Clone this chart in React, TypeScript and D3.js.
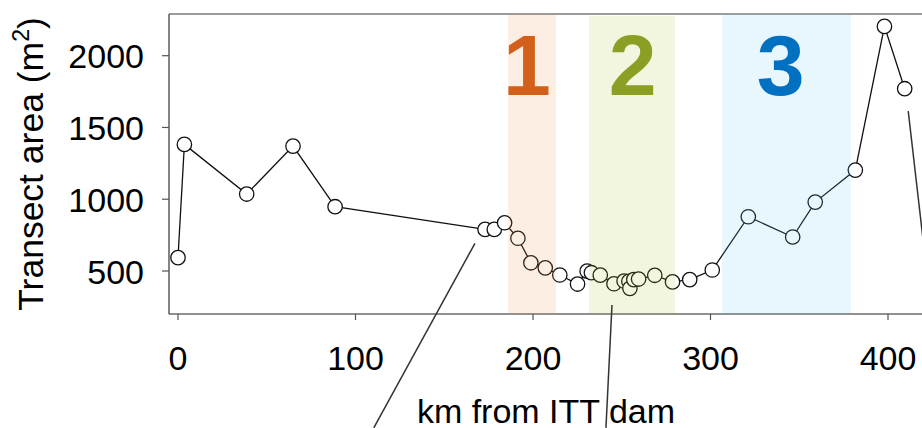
import React from "react";
import * as d3 from "d3";

const kmValues = [0, 3.6, 38.7, 64.8, 88.5, 173, 178.2, 184, 191.5, 198.8, 206.9, 215.1, 225.1, 230.5, 232.9, 237.9, 245.6, 251.3, 254, 254.6, 256.8, 259.5, 268.6, 278.6, 288.3, 301, 321.3, 346.3, 359, 381.6, 398, 409.4];
const areaValues = [593, 1382, 1036, 1370, 948, 790, 790, 836, 728, 557, 522, 472, 409, 499, 488, 471, 411, 430, 428, 379, 440, 444, 470, 424, 440, 507, 878, 737, 980, 1203, 2204, 1770];

const xTicks = [0, 100, 200, 300, 400];
const yTicks = [500, 1000, 1500, 2000];

const bandLabels = ["1", "2", "3"];
const bandStart = [186, 231.5, 306.5];
const bandEnd = [213, 280, 379];
const bandLabelKm = [196.6, 256.2, 339.5];
const bandFill = ["#f2904b", "#afc32a", "#66caf8"];
const bandText = ["#d2601a", "#8b9f24", "#0070c0"];

// callout lines, in data units [km1, area1, km2, area2]
const callouts = [
  [167.3, 693, 110.3, -593],
  [244.5, 263, 241.1, -593],
  [411.4, 1614, 421.4, 542],
];

const FONT = "'Liberation Sans', Arial, sans-serif";

export default function App() {
  const x = d3.scaleLinear().domain([0, 400]).range([178, 888]);
  const y = d3.scaleLinear().domain([500, 2000]).range([271, 55.7]);
  const left = 169;
  const top = 14;
  const bottom = 314;
  const right = 940;

  const pts = kmValues.map((k, i) => [k, areaValues[i]] as [number, number]);
  const line = d3
    .line<[number, number]>()
    .x((d) => x(d[0]))
    .y((d) => y(d[1]));

  return (
    <svg
      width={922}
      height={428}
      style={{ position: "absolute", left: 0, top: 0, display: "block", background: "#fff" }}
      fontFamily={FONT}
    >
      <rect x={0} y={0} width={922} height={428} fill="#fff" />
      {/* top border */}
      <line x1={left} x2={right} y1={top} y2={top} stroke="#7a7a7a" strokeWidth={1.5} />
      {/* left axis */}
      <line x1={left} x2={left} y1={top} y2={bottom} stroke="#333" strokeWidth={1.2} />
      {/* bottom axis */}
      <line x1={left} x2={right} y1={bottom} y2={bottom} stroke="#222" strokeWidth={1.2} />
      {yTicks.map((t) => (
        <g key={"y" + t}>
          <line x1={left - 7} x2={left} y1={y(t)} y2={y(t)} stroke="#555" strokeWidth={1.2} />
          <text x={144} y={y(t) + 12.5} textAnchor="end" fontSize={34} fill="#000">
            {t}
          </text>
        </g>
      ))}
      {xTicks.map((t) => (
        <g key={"x" + t}>
          <line x1={x(t)} x2={x(t)} y1={bottom} y2={bottom + 6} stroke="#555" strokeWidth={1.2} />
          <text x={x(t)} y={370} textAnchor="middle" fontSize={34} fill="#000">
            {t}
          </text>
        </g>
      ))}
      <text x={546} y={422.5} textAnchor="middle" fontSize={34} fill="#000">
        km from ITT dam
      </text>
      <text
        transform={`translate(43,164) rotate(-90)`}
        textAnchor="middle"
        fontSize={35.5}
        fill="#000"
      >
        Transect area (m
        <tspan fontSize={23} dy={-14}>2</tspan>
        <tspan dy={14}>)</tspan>
      </text>

      {/* data line */}
      <path d={line(pts) || ""} fill="none" stroke="#111" strokeWidth={1.3} />
      {pts.map((p, i) => (
        <circle key={i} cx={x(p[0])} cy={y(p[1])} r={7.2} fill="#fff" stroke="#111" strokeWidth={1.3} />
      ))}

      {/* shaded bands (drawn over the data, translucent) */}
      {bandLabels.map((b, i) => (
        <rect
          key={"band" + b}
          x={x(bandStart[i])}
          width={x(bandEnd[i]) - x(bandStart[i])}
          y={i === 1 ? top + 2 : top}
          height={bottom - (i === 1 ? top + 2 : top)}
          fill={bandFill[i]}
          fillOpacity={0.15}
        />
      ))}
      {bandLabels.map((b, i) => (
        <text
          key={"bl" + b}
          x={x(bandLabelKm[i])}
          y={y(1726)}
          textAnchor="middle"
          fontSize={86}
          fontWeight="bold"
          fill={bandText[i]}
        >
          {b}
        </text>
      ))}

      {/* callout lines */}
      {callouts.map((c, i) => (
        <line
          key={"c" + i}
          x1={x(c[0])}
          y1={y(c[1])}
          x2={x(c[2])}
          y2={y(c[3])}
          stroke="#333"
          strokeWidth={1.5}
        />
      ))}
    </svg>
  );
}
